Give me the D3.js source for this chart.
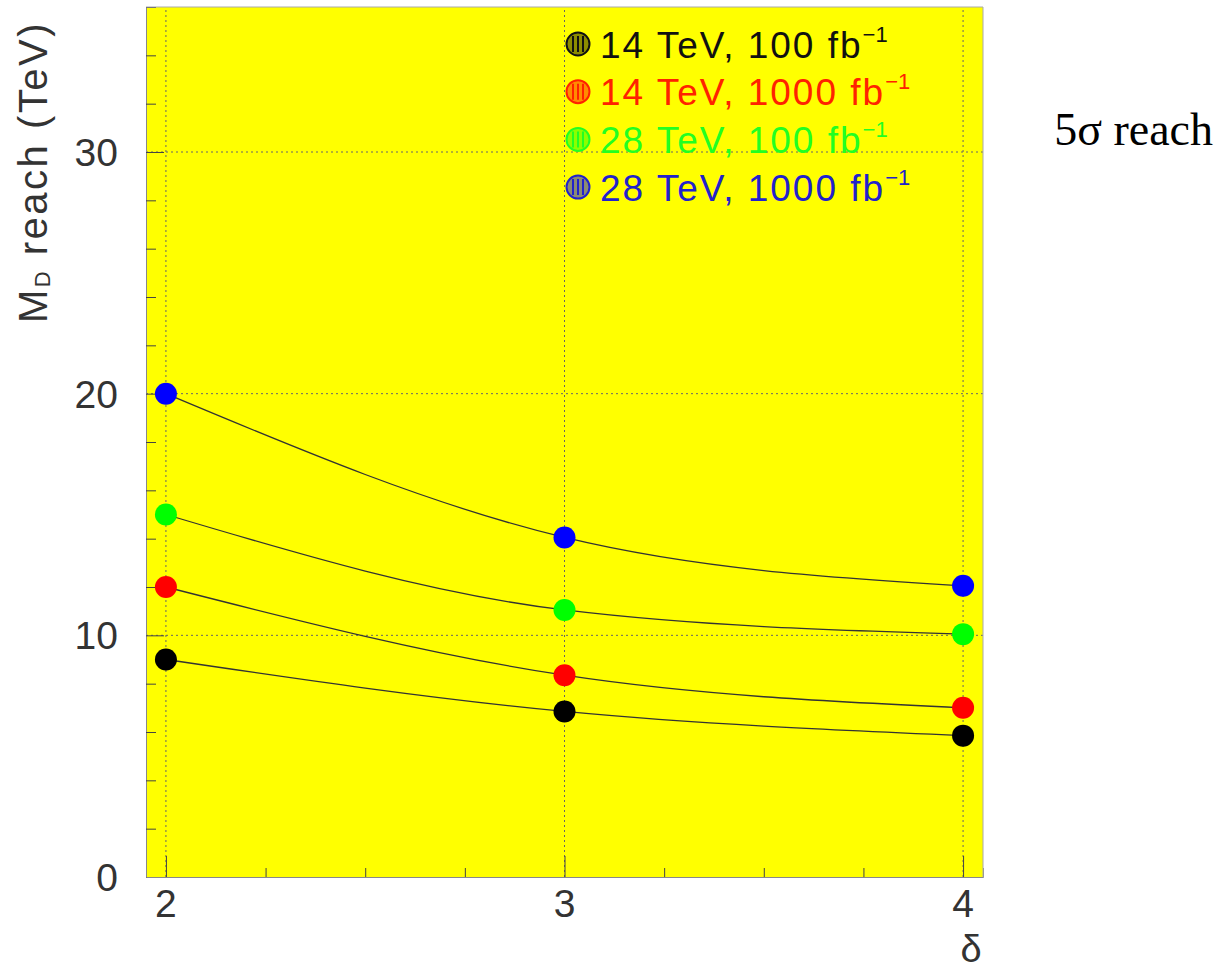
<!DOCTYPE html>
<html>
<head>
<meta charset="utf-8">
<script src="https://cdn.jsdelivr.net/npm/d3@7"></script>
<style>
  body { margin: 0; background: #fff; }
</style>
</head>
<body>
<div id="vis"></div>
<script>
// data
var deltas = [2, 3, 4];
var reach14_100 = [9, 6.85, 5.85];
var reach14_1000 = [12, 8.35, 7];
var reach28_100 = [15, 11.05, 10.05];
var reach28_1000 = [20, 14.05, 12.05];
var seriesNames = ["14 TeV, 100 fb", "14 TeV, 1000 fb", "28 TeV, 100 fb", "28 TeV, 1000 fb"];
var seriesColors = ["#000000", "#ff0000", "#00ff00", "#0000ff"];
var textColors = ["#111111", "#ff2200", "#22ff22", "#2222cc"];
var yTicks = [0, 10, 20, 30];
var xTicks = [2, 3, 4];

var width = 1223, height = 970;
var sans = "'Liberation Sans', Arial, sans-serif";

var svg = d3.select("#vis").append("svg")
    .attr("width", width)
    .attr("height", height)
    .style("font-family", sans);

var x = d3.scaleLinear().domain([1.95, 4.05]).range([146, 983]);
var y = d3.scaleLinear().domain([0, 36]).range([877, 7]);

// frame
svg.append("rect")
    .attr("x", x.range()[0])
    .attr("y", y.range()[1])
    .attr("width", x.range()[1] - x.range()[0])
    .attr("height", y.range()[0] - y.range()[1])
    .attr("fill", "#ffff00");

// dotted grid
var grid = svg.append("g").attr("stroke", "#666").attr("stroke-width", 1).attr("stroke-dasharray", "2,3");
grid.selectAll(".gx").data(xTicks).enter().append("line")
    .attr("x1", function(d) { return x(d); }).attr("x2", function(d) { return x(d); })
    .attr("y1", y.range()[0]).attr("y2", y.range()[1]);
grid.selectAll(".gy").data(yTicks.slice(1)).enter().append("line")
    .attr("x1", x.range()[0]).attr("x2", x.range()[1])
    .attr("y1", function(d) { return y(d); }).attr("y2", function(d) { return y(d); });

// axes (ticks inside the frame)
var yAxis = d3.axisLeft(y).tickValues(d3.range(0, 37, 2)).tickSize(-10).tickFormat("");
svg.append("g").attr("transform", "translate(" + x.range()[0] + ",0)").call(yAxis)
    .call(function(g) {
      g.select(".domain").attr("stroke", "#888");
      g.selectAll(".tick line").attr("stroke", "#444")
        .attr("x2", function(d) { return d % 10 === 0 ? 18 : 10; });
    });

var xAxis = d3.axisBottom(x).tickValues(d3.range(2, 4.01, 0.25)).tickSize(-9).tickFormat("");
svg.append("g").attr("transform", "translate(0," + y.range()[0] + ")").call(xAxis)
    .call(function(g) {
      g.select(".domain").attr("stroke", "#888");
      g.selectAll(".tick line").attr("stroke", "#444")
        .attr("y2", function(d) { return Math.abs(d - Math.round(d)) < 1e-6 ? -21 : -9; });
    });

// right and top border
svg.append("line").attr("x1", x.range()[1]).attr("x2", x.range()[1])
    .attr("y1", y.range()[0]).attr("y2", y.range()[1]).attr("stroke", "#aaa");
svg.append("line").attr("x1", x.range()[0]).attr("x2", x.range()[1])
    .attr("y1", y.range()[1]).attr("y2", y.range()[1]).attr("stroke", "#aaa");

// tick labels
svg.selectAll(".ylab").data(yTicks).enter().append("text")
    .attr("x", 118).attr("y", function(d) { return y(d) + 14; })
    .attr("text-anchor", "end").attr("font-size", 39).attr("fill", "#333")
    .text(function(d) { return d; });

svg.selectAll(".xlab").data(xTicks).enter().append("text")
    .attr("x", function(d) { return x(d); }).attr("y", 917)
    .attr("text-anchor", "middle").attr("font-size", 39).attr("fill", "#333")
    .text(function(d) { return d; });

svg.append("text").attr("x", 971).attr("y", 962)
    .attr("text-anchor", "middle").attr("font-size", 38).attr("fill", "#333")
    .text("δ");

// y axis title
var ytitle = svg.append("text")
    .attr("transform", "translate(47,172) rotate(-90)")
    .attr("text-anchor", "middle").attr("font-size", 40).attr("fill", "#333")
    .attr("letter-spacing", 2.5);
ytitle.append("tspan").text("M");
ytitle.append("tspan").attr("font-size", 22).attr("dy", 3).text("D");
ytitle.append("tspan").attr("dy", -3).text(" reach (TeV)");

// curves and points
var allSeries = [reach14_100, reach14_1000, reach28_100, reach28_1000];
var line = d3.line()
    .x(function(d, i) { return x(deltas[i]); })
    .y(function(d) { return y(d); })
    .curve(d3.curveMonotoneX);

svg.append("g").selectAll("path").data(allSeries).enter().append("path")
    .attr("d", line).attr("fill", "none").attr("stroke", "#333").attr("stroke-width", 1.3);

allSeries.forEach(function(s, k) {
  svg.append("g").selectAll("circle").data(s).enter().append("circle")
      .attr("cx", function(d, i) { return x(deltas[i]); })
      .attr("cy", function(d) { return y(d); })
      .attr("r", 11)
      .attr("fill", seriesColors[k]);
});

// legend
var legend = svg.append("g");
seriesNames.forEach(function(name, k) {
  var cy = 44 + k * 47.7;
  var g = legend.append("g");
  g.append("circle").attr("cx", 578).attr("cy", cy).attr("r", 11.5)
      .attr("fill", seriesColors[k]).attr("fill-opacity", 0.45)
      .attr("stroke", textColors[k]).attr("stroke-width", 2);
  [-5, 0, 5].forEach(function(dx) {
    g.append("line").attr("x1", 578 + dx).attr("x2", 578 + dx)
        .attr("y1", cy - 8).attr("y2", cy + 8)
        .attr("stroke", textColors[k]).attr("stroke-width", 2);
  });
  var t = g.append("text").attr("x", 600).attr("y", cy + 13.5)
      .attr("font-size", 37).attr("letter-spacing", 2).attr("fill", textColors[k]);
  t.append("tspan").text(name);
  t.append("tspan").attr("font-size", 22).attr("dy", -16).attr("letter-spacing", 0).text("−1");
});

// side label
svg.append("text").attr("x", 1213).attr("y", 145)
    .attr("text-anchor", "end").attr("font-size", 46)
    .style("font-family", "'Liberation Serif', 'Times New Roman', serif")
    .attr("fill", "#000").text("5σ reach");
</script>
</body>
</html>
